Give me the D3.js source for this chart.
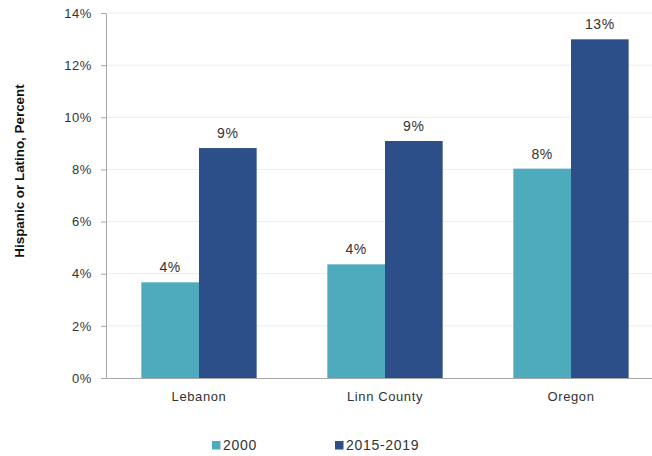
<!DOCTYPE html>
<html>
<head>
<meta charset="utf-8">
<script src="https://cdn.jsdelivr.net/npm/d3@7"></script>
<style>
  body { margin: 0; background: #fff; }
  svg { display: block; font-family: "Liberation Sans", Arial, sans-serif; }
  .axis text { fill: #333; font-size: 13px; letter-spacing: 0.6px; }
  .axis path, .axis line { stroke: #a6a6a6; }
</style>
</head>
<body>
<svg id="chart"></svg>
<script>
// data
var categories = ["Lebanon", "Linn County", "Oregon"];
var seriesNames = ["2000", "2015-2019"];
var values2000 = [3.67, 4.36, 8.03];
var values2015 = [8.82, 9.09, 12.99];
var yTicks = [0, 2, 4, 6, 8, 10, 12, 14];
var colors = ["#4dabbd", "#2c4f89"];

var width = 652, height = 456;
var margin = {top: 13, right: -12, bottom: 78, left: 106};
var innerW = width - margin.left - margin.right,
    innerH = height - margin.top - margin.bottom;

var svg = d3.select("#chart")
    .attr("width", width)
    .attr("height", height);

var chart = svg.append("g")
    .attr("transform", "translate(" + margin.left + "," + margin.top + ")");

var x0 = d3.scaleBand()
    .domain(categories)
    .range([0, innerW])
    .paddingInner(0.38)
    .paddingOuter(0.19);

var x1 = d3.scaleBand()
    .domain(seriesNames)
    .range([0, x0.bandwidth()]);

var y = d3.scaleLinear()
    .domain([0, 14])
    .range([innerH, 0]);

// gridlines
chart.append("g")
    .selectAll("line")
    .data(yTicks.slice(1))
    .enter().append("line")
    .attr("x1", 0)
    .attr("x2", innerW)
    .attr("y1", function(d) { return y(d); })
    .attr("y2", function(d) { return y(d); })
    .attr("stroke", "#ededed")
    .attr("stroke-width", 1);

// bars
var rows = categories.map(function(c, i) {
    return {name: c, vals: [values2000[i], values2015[i]]};
});

var groups = chart.selectAll(".group")
    .data(rows)
  .enter().append("g")
    .attr("class", "group")
    .attr("transform", function(d) { return "translate(" + x0(d.name) + ",0)"; });

groups.selectAll("rect")
    .data(function(d) { return d.vals.map(function(v, j) { return {s: seriesNames[j], v: v, j: j}; }); })
  .enter().append("rect")
    .attr("x", function(d) { return x1(d.s); })
    .attr("width", x1.bandwidth())
    .attr("y", function(d) { return y(d.v); })
    .attr("height", function(d) { return innerH - y(d.v); })
    .attr("fill", function(d) { return colors[d.j]; });

// value labels
groups.selectAll(".lbl")
    .data(function(d) { return d.vals.map(function(v, j) { return {s: seriesNames[j], v: v}; }); })
  .enter().append("text")
    .attr("class", "lbl")
    .attr("x", function(d) { return x1(d.s) + x1.bandwidth() / 2; })
    .attr("y", function(d) { return y(d.v) - 10; })
    .attr("text-anchor", "middle")
    .attr("font-size", "14px")
    .attr("letter-spacing", "0.6px")
    .attr("fill", "#333")
    .text(function(d) { return Math.round(d.v) + "%"; });

// y axis
chart.append("g")
    .attr("class", "y axis")
    .call(d3.axisLeft(y)
        .tickValues(yTicks)
        .tickSize(5)
        .tickSizeOuter(0)
        .tickPadding(9)
        .tickFormat(function(d) { return d + "%"; }))
    .selectAll("text")
    .attr("font-size", "13px");

// x axis
var xAxisG = chart.append("g")
    .attr("class", "x axis")
    .attr("transform", "translate(0," + innerH + ")")
    .call(d3.axisBottom(x0).tickSize(0).tickSizeOuter(0).tickPadding(14));
xAxisG.selectAll("text").attr("font-size", "13px");

// y axis title
svg.append("text")
    .attr("transform", "translate(24,171) rotate(-90)")
    .attr("text-anchor", "middle")
    .attr("font-size", "13.4px")
    .attr("font-weight", "bold")
    .attr("fill", "#111")
    .text("Hispanic or Latino, Percent");

// legend
var legendX = [212, 335];
var legend = svg.selectAll(".legend")
    .data(seriesNames)
  .enter().append("g")
    .attr("class", "legend")
    .attr("transform", function(d, i) { return "translate(" + legendX[i] + ",441)"; });

legend.append("rect")
    .attr("width", 8.5)
    .attr("height", 8.5)
    .attr("fill", function(d, i) { return colors[i]; });

legend.append("text")
    .attr("x", 11)
    .attr("y", 9)
    .attr("font-size", "14px")
    .attr("letter-spacing", "0.7px")
    .attr("fill", "#333")
    .text(function(d) { return d; });
</script>
</body>
</html>
